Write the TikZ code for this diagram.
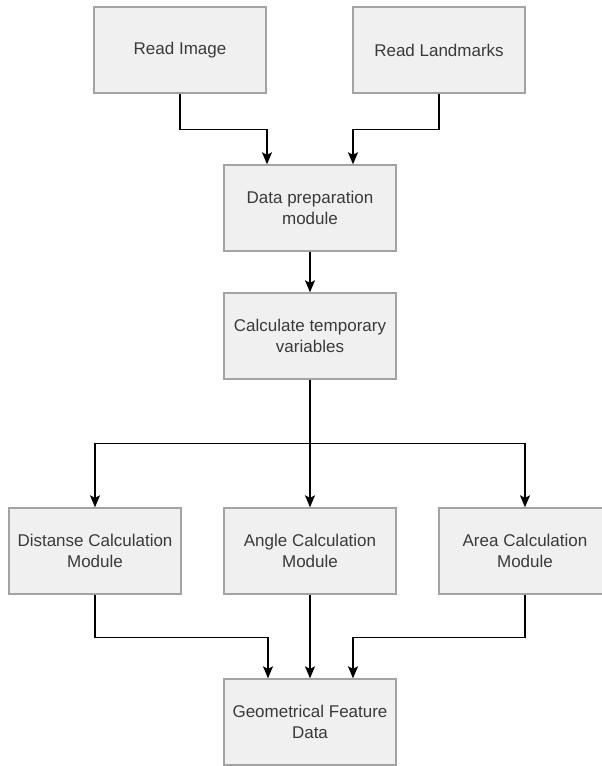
\documentclass[tikz,border=0pt]{standalone}
\usepackage{fontspec}
\setmainfont{Liberation Sans}
\usepackage{xcolor}
\usepackage{tikz}
\usetikzlibrary{arrows.meta,positioning,calc}

\definecolor{boxfill}{HTML}{F0F0F0}
\definecolor{boxline}{HTML}{A3A3A3}
\definecolor{textgray}{HTML}{3A3A3A}

\begin{document}
\begin{tikzpicture}[
    x = 1pt, y = -1pt,
    module/.style={
        rectangle, % shape
        minimum width = 172pt, minimum height = 86pt, %size
        line width = 1.4pt, %border
        draw = boxline,
        fill = boxfill,%the filling
        text = textgray,
        align = center,
        font=\fontsize{17}{21}\selectfont %font
      },
    flow/.style={
        line width = 1.3pt,
        -{Stealth[length=12pt, width=10pt, inset=2.5pt]}
      }]
  \clip (0,0) rectangle (602,766);% fixes the page
  \fill[white] (0,0) rectangle (602,766);

  \node [module] (img)  at (180,50)  {Read Image};
  \node [module] (lmk)  at (439,50)  {Read Landmarks};
  \node [module] (prep) at (310,208) {Data preparation\\module};
  \node [module] (calc) at (310,336) {Calculate temporary\\variables};
  \node [module] (dist) at (95,551)  {Distanse Calculation\\Module};
  \node [module] (ang)  at (310,551) {Angle Calculation\\Module};
  \node [module] (area) at (525,551) {Area Calculation\\Module};
  \node [module] (geo)  at (310,722) {Geometrical Feature\\Data};

  % inputs
  \draw [flow] (img.south) -- ++(0,36) -| ([xshift=-43pt]prep.north);
  \draw [flow] (lmk.south) -- ++(0,36) -| ([xshift=43pt]prep.north);
  \draw [flow] (prep) -- (calc);
  % split into the three modules
  \draw [flow] (calc) -- (ang);
  \draw [flow] (calc.south) -- ++(0,64) -| (dist.north);
  \draw [flow] (calc.south) -- ++(0,64) -| (area.north);
  % merge
  \draw [flow] (dist.south) -- ++(0,43) -| ([xshift=-42pt]geo.north);
  \draw [flow] (ang) -- (geo);
  \draw [flow] (area.south) -- ++(0,43) -| ([xshift=43pt]geo.north);
\end{tikzpicture}
\end{document}
